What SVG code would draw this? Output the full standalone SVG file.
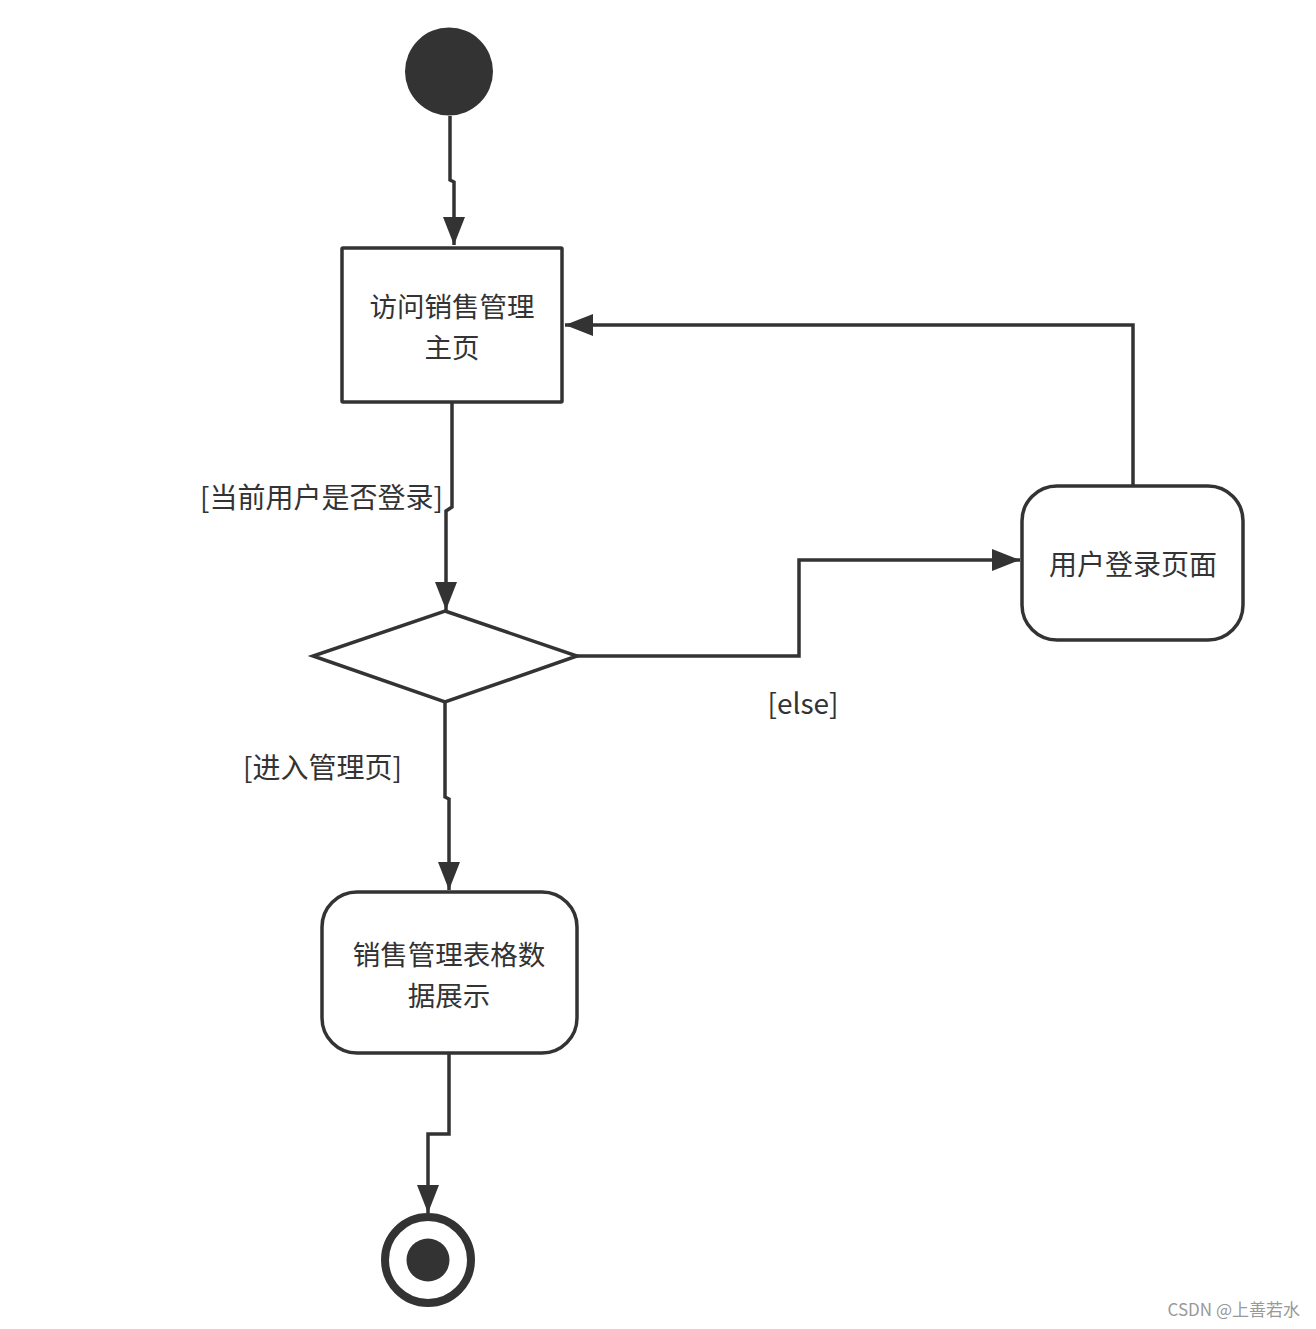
<svg xmlns="http://www.w3.org/2000/svg" width="1316" height="1329" viewBox="0 0 1316 1329">
<style>
.node{fill:#fff;stroke:#333;stroke-width:3.5}
.edge{fill:none;stroke:#333;stroke-width:3.5}
.t{font-family:"Noto Sans CJK SC","Noto Sans",sans-serif;font-size:28px;fill:#333}
.t2{font-family:"Noto Sans CJK SC","Noto Sans",sans-serif;font-size:27.5px;fill:#333}
.lbl{font-family:"Noto Sans CJK SC","Noto Sans",sans-serif;font-size:28px;fill:#333}
.wm{font-family:"Noto Sans CJK SC","Noto Sans",sans-serif;font-size:17px;fill:#999}
</style>
<defs>
<marker id="arr" viewBox="0 0 28 22" refX="28" refY="11" markerWidth="28" markerHeight="22" markerUnits="userSpaceOnUse" orient="auto">
<path d="M0,0 L28,11 L0,22 Z" fill="#333"/>
</marker>
</defs>
<rect width="1316" height="1329" fill="#fff"/>
<g id="connectors">
<polyline class="edge" points="450,116 450,180 454,182 454,245" marker-end="url(#arr)"/>
<polyline class="edge" points="452,403 452,507 446,511 446,610" marker-end="url(#arr)"/>
<polyline class="edge" points="577,656 799,656 799,560 1020,560" marker-end="url(#arr)"/>
<polyline class="edge" points="1133,486 1133,325 565,325" marker-end="url(#arr)"/>
<polyline class="edge" points="445,702 445,797 449,799 449,890" marker-end="url(#arr)"/>
<polyline class="edge" points="449,1053 449,1134 428,1134 428,1213" marker-end="url(#arr)"/>
</g>
<g id="start">
<circle cx="449" cy="71.5" r="44" fill="#333"/>
</g>
<g id="visit">
<rect class="node" x="342" y="248" width="220" height="154" rx="1"/>
<text class="t2" text-anchor="middle"><tspan x="452" y="317">访问销售管理</tspan><tspan x="452" y="358">主页</tspan></text>
</g>
<g id="label-login-check">
<text class="lbl" x="200" y="508">[当前用户是否登录]</text>
</g>
<g id="decision">
<polygon class="node" points="445,611 577,656 445,702 313,656"/>
</g>
<g id="label-else">
<text class="lbl" x="803" y="714" text-anchor="middle">[else]</text>
</g>
<g id="login">
<rect class="node" x="1022" y="486" width="221" height="154" rx="35"/>
<text class="t" x="1133" y="575" text-anchor="middle">用户登录页面</text>
</g>
<g id="label-enter">
<text class="lbl" x="243" y="778">[进入管理页]</text>
</g>
<g id="display">
<rect class="node" x="322" y="892" width="255" height="161" rx="35"/>
<text class="t2" text-anchor="middle"><tspan x="449" y="965">销售管理表格数</tspan><tspan x="449" y="1006">据展示</tspan></text>
</g>
<g id="end">
<circle cx="428" cy="1260" r="43" fill="#fff" stroke="#333" stroke-width="8"/>
<circle cx="428" cy="1260" r="21.5" fill="#333"/>
</g>
<text class="wm" x="1300" y="1316" text-anchor="end">CSDN @上善若水</text>
</svg>
